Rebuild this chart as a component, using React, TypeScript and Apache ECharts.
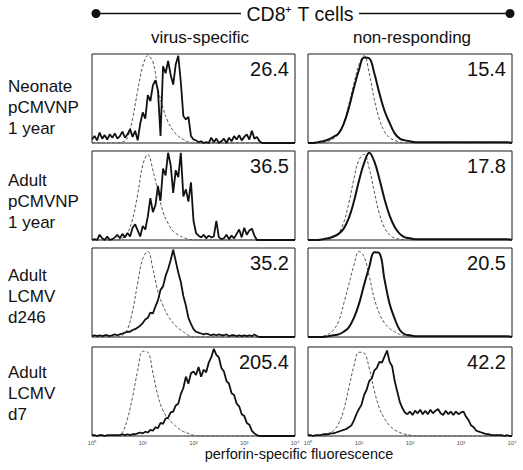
import React, { useEffect, useRef } from "react";
import * as echarts from "echarts";

// log10 fluorescence channel positions (decades)
const X_FINE = [
  0, 0.05, 0.1, 0.15, 0.2, 0.25, 0.3, 0.35, 0.4, 0.45,
  0.5, 0.55, 0.6, 0.65, 0.7, 0.75, 0.8, 0.85, 0.9, 0.95,
  1, 1.05, 1.1, 1.15, 1.2, 1.25, 1.3, 1.35, 1.4, 1.45,
  1.5, 1.55, 1.6, 1.65, 1.7, 1.75, 1.8, 1.85, 1.9, 1.95,
  2, 2.05, 2.1, 2.15, 2.2, 2.25, 2.3, 2.35, 2.4, 2.45,
  2.5, 2.55, 2.6, 2.65, 2.7, 2.75, 2.8, 2.85, 2.9, 2.95,
  3, 3.05, 3.1, 3.15, 3.2, 3.25, 3.3, 3.35, 3.4, 3.45,
  3.5, 3.55, 3.6, 3.65, 3.7, 3.75, 3.8, 3.85, 3.9, 3.95,
  4,
];
const X_COARSE = [
  0, 0.1, 0.2, 0.3, 0.4, 0.5, 0.6, 0.7, 0.8, 0.9,
  1, 1.1, 1.2, 1.3, 1.4, 1.5, 1.6, 1.7, 1.8, 1.9,
  2, 2.1, 2.2, 2.3, 2.4, 2.5, 2.6, 2.7, 2.8, 2.9,
  3, 3.1, 3.2, 3.3, 3.4, 3.5, 3.6, 3.7, 3.8, 3.9,
  4,
];

const TICK_LABELS = ["10\u2070", "10\u00B9", "10\u00B2", "10\u00B3", "10\u2074"];
const ROW_LABELS = [
  ["Neonate", "pCMVNP", "1 year"],
  ["Adult", "pCMVNP", "1 year"],
  ["Adult", "LCMV", "d246"],
  ["Adult", "LCMV", "d7"],
];
const VALUES_VIRUS = ["26.4", "36.5", "35.2", "205.4"];
const VALUES_NONRESP = ["15.4", "17.8", "20.5", "42.2"];

// virus-specific (left column): bold stained histograms on X_FINE
const VIRUS_1 = [
  4, 8, 3, 12, 5, 9, 4, 10, 6, 11,
  5, 8, 13, 6, 10, 16, 7, 14, 3, 22,
  35, 28, 55, 48, 66, 72, 60, 8, 88, 80,
  94, 78, 67, 90, 100, 70, 31, 27, 30, 8,
  4, 3, 1, 2, 0, 1, 0, 6, 1, 5,
  0, 2, 5, 0, 6, 2, 8, 4, 9, 3,
  7, 10, 4, 14, 5, 7, 2, 0, 0, 0,
  0, 0, 0, 0, 0, 0, 0, 0, 0, 0,
  0,
];
const VIRUS_2 = [
  0, 1, 0, 6, 2, 0, 4, 0, 1, 3,
  6, 2, 7, 3, 8, 4, 14, 18, 11, 4,
  16, 12, 27, 48, 32, 40, 62, 45, 82, 74,
  100, 86, 54, 80, 72, 100, 50, 58, 44, 66,
  22, 8, 5, 3, 6, 2, 5, 3, 4, 22,
  3, 1, 2, 6, 1, 5, 2, 7, 12, 3,
  14, 6, 11, 13, 5, 0, 0, 0, 0, 0,
  0, 0, 0, 0, 0, 0, 0, 0, 0, 0,
  0,
];
const VIRUS_3 = [
  1, 2, 1, 2, 1, 2, 2, 1, 2, 3,
  2, 3, 4, 5, 6, 6, 8, 9, 11, 13,
  16, 20, 22, 28, 27, 35, 42, 54, 58, 70,
  78, 88, 100, 87, 74, 63, 47, 36, 22, 15,
  9, 6, 5, 4, 3, 4, 3, 2, 3, 2,
  3, 2, 2, 3, 1, 2, 2, 1, 2, 1,
  2, 1, 2, 1, 3, 1, 0, 0, 0, 0,
  0, 0, 0, 0, 0, 0, 0, 0, 0, 0,
  0,
];
const VIRUS_4 = [
  1, 1, 0, 1, 1, 0, 1, 1, 1, 1,
  1, 1, 2, 1, 2, 1, 2, 2, 3, 4,
  3, 5, 4, 7, 6, 10, 9, 15, 14, 20,
  21, 27, 28, 35, 37, 48, 55, 68, 60, 72,
  74, 70, 79, 68, 76, 73, 84, 90, 100, 93,
  90, 78, 74, 63, 60, 49, 47, 37, 34, 25,
  23, 15, 13, 6, 3, 1, 0, 0, 0, 0,
  0, 0, 0, 0, 0, 0, 0, 0, 0, 0,
  0,
];
// virus-specific controls (dashed) on X_COARSE
const VIRUS_CTRL_1 = [
  0, 0, 0, 0, 0, 0, 1, 6, 28, 60,
  88, 100, 93, 62, 40, 24, 14, 8, 4, 1,
  0, 0, 0, 0, 0, 0, 0, 0, 0, 0,
  0, 0, 0, 0, 0, 0, 0, 0, 0, 0,
  0,
];
const VIRUS_CTRL_2 = [
  0, 0, 0, 0, 0, 0, 2, 8, 24, 52,
  86, 98, 80, 55, 32, 19, 10, 6, 3, 1,
  0, 0, 0, 0, 0, 0, 0, 0, 0, 0,
  0, 0, 0, 0, 0, 0, 0, 0, 0, 0,
  0,
];
const VIRUS_CTRL_3 = [
  0, 0, 0, 0, 0, 0, 2, 9, 30, 62,
  90, 98, 78, 52, 36, 24, 16, 10, 6, 2,
  0, 0, 0, 0, 0, 0, 0, 0, 0, 0,
  0, 0, 0, 0, 0, 0, 0, 0, 0, 0,
  0,
];
const VIRUS_CTRL_4 = [
  0, 0, 0, 0, 0, 0, 4, 20, 45, 75,
  97, 96, 72, 46, 29, 20, 14, 9, 5, 3,
  1, 0, 0, 0, 0, 0, 0, 0, 0, 0,
  0, 0, 0, 0, 0, 0, 0, 0, 0, 0,
  0,
];

// non-responding (right column)
const NONRESP_1 = [
  0, 0, 1, 2, 4, 7, 11, 22, 40, 63,
  84, 98, 97, 80, 57, 37, 23, 11, 5, 3,
  2, 1, 1, 1, 1, 1, 1, 1, 1, 1,
  1, 1, 1, 1, 1, 1, 1, 1, 1, 1,
  0,
];
const NONRESP_2 = [
  0, 0, 0, 1, 2, 4, 7, 13, 25, 44,
  68, 88, 100, 90, 70, 47, 28, 15, 7, 3,
  2, 1, 1, 1, 1, 1, 1, 1, 1, 1,
  1, 1, 1, 1, 1, 1, 1, 1, 1, 1,
  0,
];
const NONRESP_3 = [
  0, 0, 0, 0, 1, 2, 3, 6, 11, 22,
  38, 60, 80, 97, 96, 66, 38, 21, 8, 3,
  2, 1, 1, 1, 1, 1, 1, 1, 1, 1,
  1, 1, 1, 1, 1, 1, 1, 1, 1, 1,
  0,
];
// fine grid (noisy)
const NONRESP_4 = [
  1, 1, 0, 1, 1, 1, 2, 2, 2, 3,
  3, 4, 5, 6, 7, 8, 10, 12, 18, 25,
  31, 36, 47, 53, 63, 66, 75, 78, 85, 84,
  91, 98, 85, 80, 63, 51, 39, 32, 27, 25,
  28, 24, 29, 26, 30, 25, 29, 25, 30, 26,
  29, 31, 26, 24, 29, 25, 28, 24, 28, 25,
  27, 28, 22, 18, 12, 10, 6, 5, 4, 3,
  2, 2, 1, 1, 1, 1, 1, 0, 1, 0,
  0,
];
const NONRESP_CTRL_1 = [
  0, 0, 0, 0, 2, 5, 10, 22, 44, 68,
  90, 100, 80, 50, 27, 13, 6, 3, 1, 0,
  0, 0, 0, 0, 0, 0, 0, 0, 0, 0,
  0, 0, 0, 0, 0, 0, 0, 0, 0, 0,
  0,
];
const NONRESP_CTRL_2 = [
  0, 0, 0, 0, 0, 3, 8, 20, 42, 70,
  92, 98, 82, 55, 30, 14, 6, 2, 1, 0,
  0, 0, 0, 0, 0, 0, 0, 0, 0, 0,
  0, 0, 0, 0, 0, 0, 0, 0, 0, 0,
  0,
];
const NONRESP_CTRL_3 = [
  0, 0, 0, 1, 3, 8, 18, 38, 60, 82,
  98, 92, 70, 44, 27, 16, 10, 6, 3, 1,
  0, 0, 0, 0, 0, 0, 0, 0, 0, 0,
  0, 0, 0, 0, 0, 0, 0, 0, 0, 0,
  0,
];
const NONRESP_CTRL_4 = [
  0, 0, 0, 0, 3, 6, 14, 30, 55, 80,
  96, 95, 78, 52, 32, 20, 12, 7, 4, 2,
  1, 0, 0, 0, 0, 0, 0, 0, 0, 0,
  0, 0, 0, 0, 0, 0, 0, 0, 0, 0,
  0,
];

const PANELS = [
  { stained: VIRUS_1, sx: X_FINE, ctrl: VIRUS_CTRL_1, value: VALUES_VIRUS[0], smooth: false },
  { stained: NONRESP_1, sx: X_COARSE, ctrl: NONRESP_CTRL_1, value: VALUES_NONRESP[0], smooth: true },
  { stained: VIRUS_2, sx: X_FINE, ctrl: VIRUS_CTRL_2, value: VALUES_VIRUS[1], smooth: false },
  { stained: NONRESP_2, sx: X_COARSE, ctrl: NONRESP_CTRL_2, value: VALUES_NONRESP[1], smooth: true },
  { stained: VIRUS_3, sx: X_FINE, ctrl: VIRUS_CTRL_3, value: VALUES_VIRUS[2], smooth: false },
  { stained: NONRESP_3, sx: X_COARSE, ctrl: NONRESP_CTRL_3, value: VALUES_NONRESP[2], smooth: true },
  { stained: VIRUS_4, sx: X_FINE, ctrl: VIRUS_CTRL_4, value: VALUES_VIRUS[3], smooth: false },
  { stained: NONRESP_4, sx: X_FINE, ctrl: NONRESP_CTRL_4, value: VALUES_NONRESP[3], smooth: false },
];

const FONT = '"Liberation Sans", Arial, Helvetica, sans-serif';
const COL_LEFT = [92, 308];
const COL_WIDTH = [203, 204];
const ROW_TOP = [54, 151, 248, 347];
const ROW_H = 89;
const LABEL_CENTER = [107, 201, 296, 393];

export default function App() {
  const ref = useRef<HTMLDivElement>(null);
  useEffect(() => {
    document.body.style.margin = "0";
    const chart = echarts.init(ref.current!, null, { renderer: "svg" });
    const grids: any[] = [];
    const xAxes: any[] = [];
    const yAxes: any[] = [];
    const series: any[] = [];
    const graphics: any[] = [];

    PANELS.forEach((p, i) => {
      const r = Math.floor(i / 2);
      const c = i % 2;
      grids.push({
        left: COL_LEFT[c],
        top: ROW_TOP[r],
        width: COL_WIDTH[c],
        height: ROW_H,
        show: true,
        borderColor: "#1a1a1a",
        borderWidth: 1,
        backgroundColor: "transparent",
      });
      xAxes.push({
        type: "value",
        gridIndex: i,
        min: 0,
        max: 4,
        interval: 1,
        axisLine: { show: false },
        axisTick: { show: false },
        splitLine: { show: false },
        axisLabel: {
          show: r === 3,
          formatter: (v: number) => TICK_LABELS[Math.round(v)],
          fontSize: 6,
          color: "#555",
          margin: 4,
          fontFamily: FONT,
        },
      });
      yAxes.push({ type: "value", gridIndex: i, min: 0, max: 102, show: false });
      series.push({
        type: "line",
        xAxisIndex: i,
        yAxisIndex: i,
        data: X_COARSE.map((x, k) => [x, p.ctrl[k]]),
        smooth: 0.4,
        symbol: "none",
        silent: true,
        lineStyle: { color: "#555", width: 1, type: [3, 2] },
      });
      series.push({
        type: "line",
        xAxisIndex: i,
        yAxisIndex: i,
        data: p.sx.map((x, k) => [x, p.stained[k]]),
        smooth: p.smooth ? 0.4 : false,
        symbol: "none",
        silent: true,
        lineStyle: { color: "#111", width: p.smooth ? 2 : 1.8 },
      });
      graphics.push({
        type: "text",
        x: COL_LEFT[c] + COL_WIDTH[c] - 6,
        y: ROW_TOP[r] + 15,
        style: {
          text: p.value,
          fontSize: 20,
          fontFamily: FONT,
          fill: "#111",
          textAlign: "right",
          textVerticalAlign: "middle",
        },
      });
    });

    ROW_LABELS.forEach((lines, r) => {
      graphics.push({
        type: "text",
        x: 8,
        y: LABEL_CENTER[r],
        style: {
          text: lines.join("\n"),
          fontSize: 17,
          lineHeight: 21,
          fontFamily: FONT,
          fill: "#111",
          textAlign: "left",
          textVerticalAlign: "middle",
        },
      });
    });

    graphics.push(
      { type: "line", shape: { x1: 96, y1: 13.5, x2: 241, y2: 13.5 }, style: { stroke: "#111", lineWidth: 1.3 } },
      { type: "line", shape: { x1: 359, y1: 13.5, x2: 510, y2: 13.5 }, style: { stroke: "#111", lineWidth: 1.3 } },
      { type: "circle", shape: { cx: 96, cy: 13.5, r: 4.5 }, style: { fill: "#111" } },
      { type: "circle", shape: { cx: 510, cy: 13.5, r: 4.5 }, style: { fill: "#111" } },
      {
        type: "text",
        x: 300,
        y: 14,
        style: {
          text: "CD8\u207A T cells",
          fontSize: 19.5,
          fontFamily: FONT,
          fill: "#111",
          textAlign: "center",
          textVerticalAlign: "middle",
        },
      },
      {
        type: "text",
        x: 200,
        y: 37,
        style: { text: "virus-specific", fontSize: 17, fontFamily: FONT, fill: "#111", textAlign: "center", textVerticalAlign: "middle" },
      },
      {
        type: "text",
        x: 412,
        y: 37,
        style: { text: "non-responding", fontSize: 17, fontFamily: FONT, fill: "#111", textAlign: "center", textVerticalAlign: "middle" },
      },
      {
        type: "text",
        x: 299,
        y: 454,
        style: {
          text: "perforin-specific fluorescence",
          fontSize: 14.5,
          fontFamily: FONT,
          fill: "#111",
          textAlign: "center",
          textVerticalAlign: "middle",
        },
      }
    );

    chart.setOption({
      animation: false,
      backgroundColor: "#fff",
      grid: grids,
      xAxis: xAxes,
      yAxis: yAxes,
      series,
      graphic: graphics,
    });
    return () => chart.dispose();
  }, []);
  return <div ref={ref} style={{ width: 523, height: 470 }} />;
}
